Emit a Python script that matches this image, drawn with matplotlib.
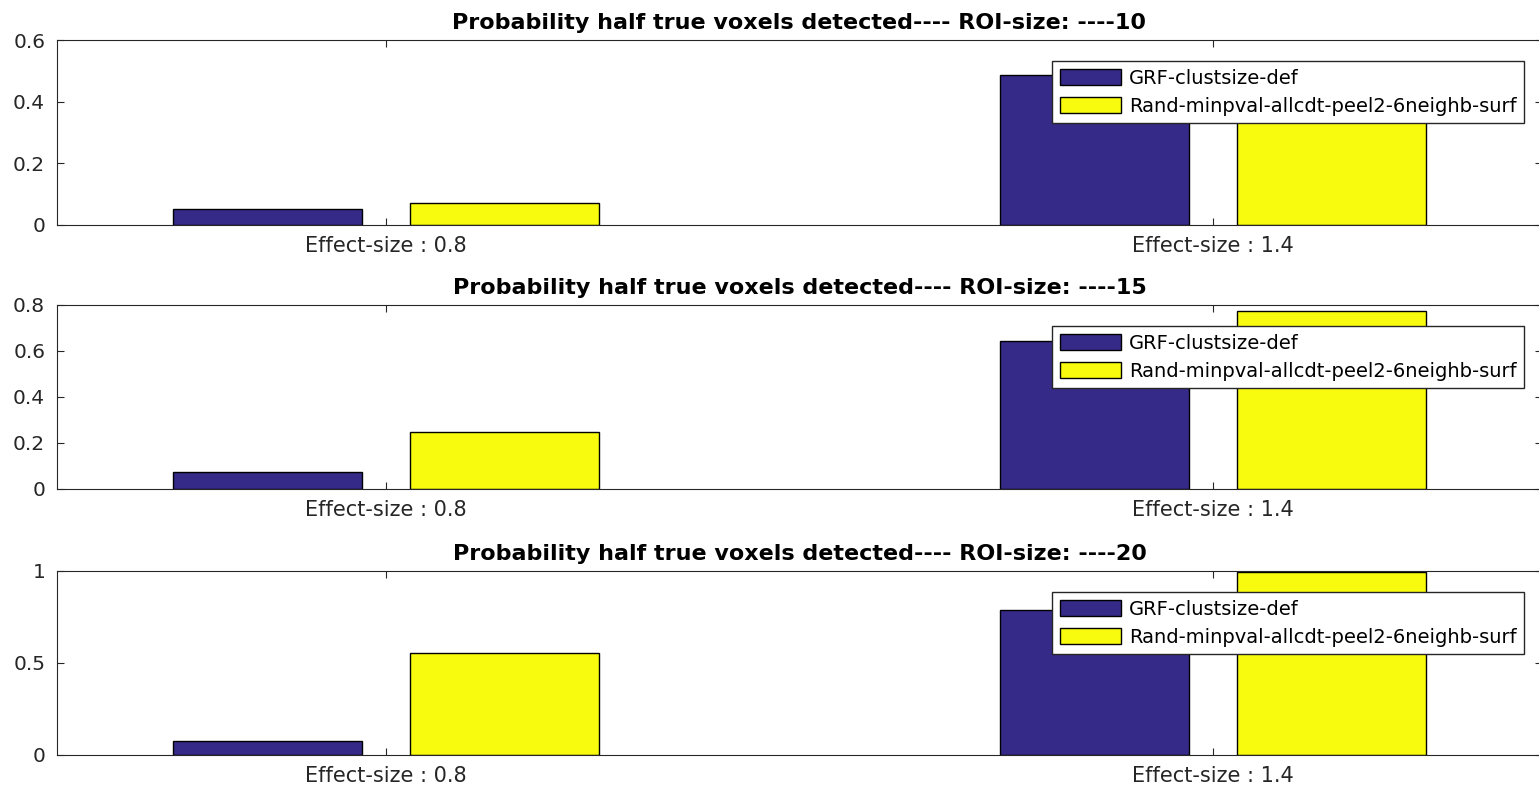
import numpy as np
import matplotlib
matplotlib.use("Agg")
import matplotlib.pyplot as plt
from matplotlib.ticker import FuncFormatter

# values
roi_sizes = [10, 15, 20]
effect_labels = ["Effect-size : 0.8", "Effect-size : 1.4"]
series_names = ["GRF-clustsize-def", "Rand-minpval-allcdt-peel2-6neighb-surf"]
grf_vals = [[0.053, 0.486], [0.072, 0.645], [0.074, 0.790]]
rand_vals = [[0.071, 0.520], [0.246, 0.775], [0.556, 0.993]]
ylims = [0.6, 0.8, 1.0]
yticks = [[0, 0.2, 0.4, 0.6], [0, 0.2, 0.4, 0.6, 0.8], [0, 0.5, 1]]

blue = "#352A87"
yellow = "#F9FB0E"
dark = "#262626"

W, H = 1539, 786
fig = plt.figure(figsize=(W / 100, H / 100), dpi=100)

# axes boxes in pixels: (top, bottom); x from 57 to 1542 (right spine falls just outside)
boxes = [(40, 225), (305, 489), (571, 755)]
x_left, x_right = 57, 1542

x = np.arange(len(effect_labels))
offset = 0.143
width = 0.2285

for i, (top, bot) in enumerate(boxes):
    ax = fig.add_axes([x_left / W, 1 - bot / H, (x_right - x_left) / W, (bot - top) / H])
    ax.bar(x - offset, grf_vals[i], width, color=blue, edgecolor="black", linewidth=1.0,
           label=series_names[0])
    ax.bar(x + offset, rand_vals[i], width, color=yellow, edgecolor="black", linewidth=1.0,
           label=series_names[1])
    ax.set_xlim(-0.398, 1.398)
    ax.set_ylim(0, ylims[i])
    ax.set_yticks(yticks[i])
    ax.yaxis.set_major_formatter(FuncFormatter(lambda v, p: f"{v:g}"))
    ax.set_xticks(x)
    ax.set_xticklabels(effect_labels)
    ax.tick_params(direction="in", length=5, width=0.8, colors=dark, labelsize=14.5,
                   top=True, right=True)
    ax.tick_params(axis="x", labelsize=15, pad=8)
    ax.tick_params(axis="y", pad=8.5)
    for s in ax.spines.values():
        s.set_color(dark)
        s.set_linewidth(0.8)
    ax.set_title(f"Probability half true voxels detected---- ROI-size: ----{roi_sizes[i]}",
                 fontsize=16, fontweight="bold", color="black", pad=8)
    ax.legend(loc="upper right", bbox_to_anchor=(0.988, 1 - 21 / (bot - top)),
              borderaxespad=0, fontsize=14, frameon=True, fancybox=False, framealpha=1,
              edgecolor=dark, handlelength=3.15, handleheight=0.93, handletextpad=0.4,
              labelspacing=0.45, borderpad=0.4)

fig.savefig("out.png", dpi=100)
